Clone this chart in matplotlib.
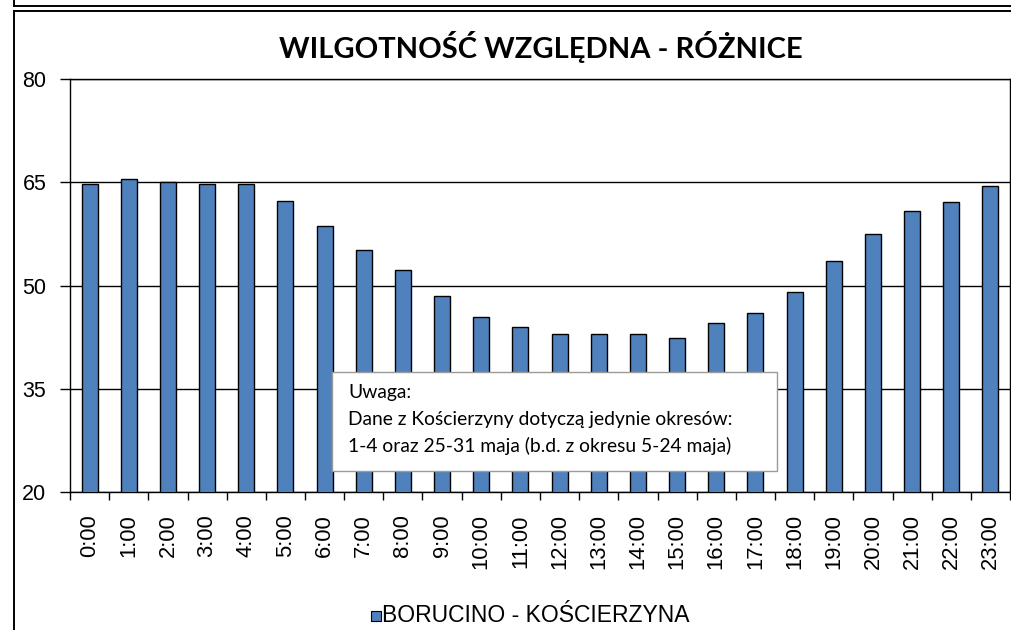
import numpy as np
import matplotlib.pyplot as plt
from matplotlib.patches import Rectangle
from matplotlib.lines import Line2D

hours = [f"{h}:00" for h in range(24)]
values = [64.7, 65.4, 65.0, 64.8, 64.8, 62.3, 58.7, 55.2, 52.3, 48.5, 45.4, 43.9,
          43.0, 42.9, 42.9, 42.4, 44.5, 46.0, 49.1, 53.6, 57.5, 60.8, 62.1, 64.4]
yticks = [20, 35, 50, 65, 80]
series_name = "BORUCINO - KOŚCIERZYNA"
title = "WILGOTNOŚĆ WZGLĘDNA - RÓŻNICE"
note_lines = ["Uwaga:",
              "Dane z Kościerzyny dotyczą jedynie okresów:",
              "1-4 oraz 25-31 maja (b.d. z okresu 5-24 maja)"]

W, H = 1011, 630
fig = plt.figure(figsize=(W / 100, H / 100), dpi=100)
plt.rcParams["font.family"] = ["Liberation Sans", "DejaVu Sans"]


def fx(px):
    return px / W


def fy(py):
    return 1 - py / H


# frame lines of the sheet
def hline(y, x0=14, x1=W):
    fig.add_artist(Line2D([fx(x0), fx(x1)], [fy(y), fy(y)], color="black", lw=1.4))


def vline(x, y0, y1):
    fig.add_artist(Line2D([fx(x), fx(x)], [fy(y0), fy(y1)], color="black", lw=1.4))


hline(5.5)
hline(11)
vline(14, 0, 5.5)
vline(14, 11, H)

ax = fig.add_axes([fx(70), fy(492), (1010 - 70) / W, (492 - 79) / H])
x = np.arange(len(hours))
ax.bar(x, values, width=0.41, color="#4F81BD", edgecolor="black", linewidth=1.0, zorder=3)
ax.set_xlim(-0.5, len(hours) - 0.5)
ax.set_ylim(20, 80)
ax.set_yticks(yticks)
ax.set_yticklabels([str(v) for v in yticks], fontsize=15.5)
ax.grid(axis="y", color="black", lw=1.0, zorder=0)
ax.tick_params(axis="y", length=7, width=1, pad=10, direction="out")

ax.set_xticks(np.arange(-0.5, len(hours), 1.0))
ax.set_xticklabels([])
ax.tick_params(axis="x", which="major", length=6, width=1, direction="out")
ax.set_xticks(x, minor=True)
ax.set_xticklabels(hours, minor=True, rotation=90, fontsize=15.8, va="top", ha="center")
ax.tick_params(axis="x", which="minor", length=0, pad=16)

for side in ["left", "bottom", "top", "right"]:
    ax.spines[side].set_linewidth(1.0)
    ax.spines[side].set_color("black")

fig.text(fx(541), fy(47), title, ha="center", va="center",
         fontsize=21, fontweight="bold", family=["Lato", "DejaVu Sans"])

# note box
fig.add_artist(Rectangle((fx(332), fy(471)), fx(777) - fx(332), fy(372) - fy(471),
                         facecolor="white", edgecolor="#9a9a9a", lw=1.0, zorder=5))
for line, base in zip(note_lines, [398, 425, 452]):
    fig.text(fx(348), fy(base), line, ha="left", va="baseline", fontsize=13.9,
             family=["Lato", "DejaVu Sans"], zorder=6)

# legend
fig.add_artist(Rectangle((fx(371), fy(621)), 10 / W, 10 / H, facecolor="#4F81BD",
                         edgecolor="black", lw=0.8))
fig.text(fx(382), fy(616), series_name, ha="left", va="center", fontsize=16.5)

fig.savefig("out.png", dpi=100)
